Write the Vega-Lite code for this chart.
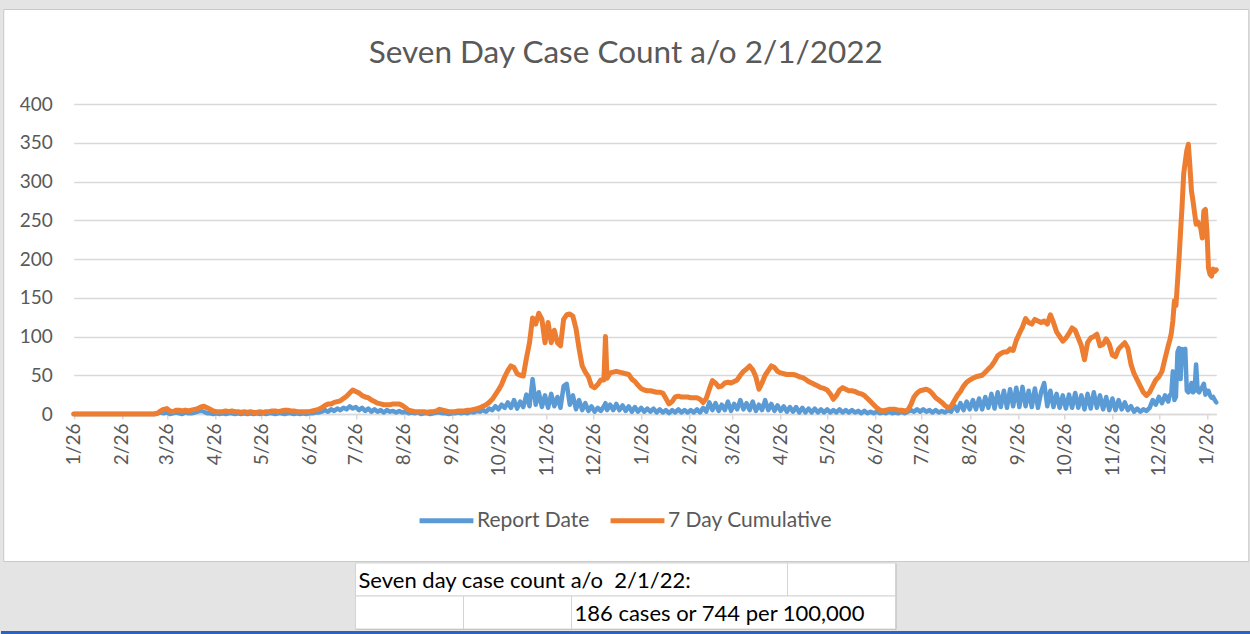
{
"$schema": "https://vega.github.io/schema/vega-lite/v6.json",
"background": "#e4e4e4",
"padding": {"top": 8, "left": 0, "right": 0, "bottom": 0},
"spacing": 0,
"center": true,
"config": {"font": "Lato"},
"datasets": {
"cases": [
{"d":"2020-01-26","c":0,"r":0},{"d":"2020-01-28","c":0,"r":0},{"d":"2020-01-30","c":0,"r":0},
{"d":"2020-02-01","c":0,"r":0},{"d":"2020-02-03","c":0,"r":0},{"d":"2020-02-05","c":0,"r":0},{"d":"2020-02-07","c":0,"r":0},{"d":"2020-02-09","c":0,"r":0},{"d":"2020-02-11","c":0,"r":0},{"d":"2020-02-13","c":0,"r":0},{"d":"2020-02-15","c":0,"r":0},{"d":"2020-02-17","c":0,"r":0},{"d":"2020-02-19","c":0,"r":0},{"d":"2020-02-21","c":0,"r":0},{"d":"2020-02-23","c":0,"r":0},{"d":"2020-02-25","c":0,"r":0},{"d":"2020-02-27","c":0,"r":0},{"d":"2020-02-29","c":0,"r":0},
{"d":"2020-03-02","c":0,"r":0},{"d":"2020-03-04","c":0,"r":0},{"d":"2020-03-06","c":0,"r":0},{"d":"2020-03-08","c":0,"r":0},{"d":"2020-03-10","c":0,"r":0},{"d":"2020-03-12","c":0,"r":0},{"d":"2020-03-14","c":0,"r":0},{"d":"2020-03-16","c":0,"r":0},{"d":"2020-03-18","c":0,"r":0},{"d":"2020-03-20","c":1,"r":1},{"d":"2020-03-22","c":4,"r":2},{"d":"2020-03-24","c":6,"r":1},{"d":"2020-03-26","c":7,"r":2},{"d":"2020-03-28","c":4,"r":0},{"d":"2020-03-30","c":3,"r":1},
{"d":"2020-04-01","c":5,"r":2},{"d":"2020-04-03","c":5,"r":1},{"d":"2020-04-05","c":4,"r":0},{"d":"2020-04-07","c":5,"r":2},{"d":"2020-04-09","c":4,"r":1},{"d":"2020-04-11","c":5,"r":1},{"d":"2020-04-13","c":6,"r":2},{"d":"2020-04-15","c":7,"r":3},{"d":"2020-04-17","c":9,"r":4},{"d":"2020-04-19","c":10,"r":3},{"d":"2020-04-21","c":8,"r":1},{"d":"2020-04-23","c":6,"r":1},{"d":"2020-04-25","c":4,"r":0},{"d":"2020-04-27","c":3,"r":1},{"d":"2020-04-29","c":3,"r":0},
{"d":"2020-05-01","c":3,"r":1},{"d":"2020-05-03","c":4,"r":0},{"d":"2020-05-05","c":3,"r":1},{"d":"2020-05-07","c":4,"r":1},{"d":"2020-05-09","c":3,"r":0},{"d":"2020-05-11","c":3,"r":1},{"d":"2020-05-13","c":2,"r":0},{"d":"2020-05-15","c":3,"r":1},{"d":"2020-05-17","c":2,"r":0},{"d":"2020-05-19","c":3,"r":1},{"d":"2020-05-21","c":2,"r":0},{"d":"2020-05-23","c":2,"r":1},{"d":"2020-05-25","c":3,"r":0},{"d":"2020-05-27","c":2,"r":1},{"d":"2020-05-29","c":3,"r":0},{"d":"2020-05-31","c":3,"r":1},
{"d":"2020-06-02","c":4,"r":1},{"d":"2020-06-04","c":4,"r":0},{"d":"2020-06-06","c":3,"r":1},{"d":"2020-06-08","c":4,"r":1},{"d":"2020-06-10","c":5,"r":0},{"d":"2020-06-12","c":5,"r":1},{"d":"2020-06-14","c":4,"r":1},{"d":"2020-06-16","c":4,"r":0},{"d":"2020-06-18","c":3,"r":1},{"d":"2020-06-20","c":3,"r":0},{"d":"2020-06-22","c":3,"r":1},{"d":"2020-06-24","c":3,"r":0},{"d":"2020-06-26","c":3,"r":1},{"d":"2020-06-28","c":4,"r":1},{"d":"2020-06-30","c":5,"r":2},
{"d":"2020-07-02","c":6,"r":2},{"d":"2020-07-04","c":8,"r":3},{"d":"2020-07-06","c":11,"r":5},{"d":"2020-07-08","c":13,"r":3},{"d":"2020-07-10","c":13,"r":6},{"d":"2020-07-12","c":15,"r":4},{"d":"2020-07-14","c":16,"r":7},{"d":"2020-07-16","c":17,"r":5},{"d":"2020-07-18","c":20,"r":8},{"d":"2020-07-20","c":23,"r":6},{"d":"2020-07-22","c":27,"r":10},{"d":"2020-07-24","c":31,"r":7},{"d":"2020-07-26","c":29,"r":9},{"d":"2020-07-28","c":27,"r":5},{"d":"2020-07-30","c":24,"r":8},
{"d":"2020-08-01","c":22,"r":4},{"d":"2020-08-03","c":21,"r":7},{"d":"2020-08-05","c":18,"r":3},{"d":"2020-08-07","c":16,"r":6},{"d":"2020-08-09","c":14,"r":3},{"d":"2020-08-11","c":13,"r":5},{"d":"2020-08-13","c":12,"r":2},{"d":"2020-08-15","c":12,"r":5},{"d":"2020-08-17","c":12,"r":3},{"d":"2020-08-19","c":13,"r":4},{"d":"2020-08-21","c":13,"r":2},{"d":"2020-08-23","c":13,"r":4},{"d":"2020-08-25","c":11,"r":2},{"d":"2020-08-27","c":8,"r":3},{"d":"2020-08-29","c":5,"r":1},{"d":"2020-08-31","c":4,"r":2},
{"d":"2020-09-02","c":3,"r":1},{"d":"2020-09-04","c":3,"r":2},{"d":"2020-09-06","c":3,"r":0},{"d":"2020-09-08","c":3,"r":1},{"d":"2020-09-10","c":2,"r":1},{"d":"2020-09-12","c":3,"r":0},{"d":"2020-09-14","c":3,"r":1},{"d":"2020-09-16","c":4,"r":2},{"d":"2020-09-18","c":6,"r":2},{"d":"2020-09-20","c":5,"r":1},{"d":"2020-09-22","c":4,"r":1},{"d":"2020-09-24","c":3,"r":0},{"d":"2020-09-26","c":3,"r":1},{"d":"2020-09-28","c":3,"r":1},{"d":"2020-09-30","c":4,"r":2},
{"d":"2020-10-02","c":4,"r":1},{"d":"2020-10-04","c":4,"r":2},{"d":"2020-10-06","c":5,"r":1},{"d":"2020-10-08","c":5,"r":3},{"d":"2020-10-10","c":6,"r":2},{"d":"2020-10-12","c":7,"r":4},{"d":"2020-10-14","c":8,"r":3},{"d":"2020-10-16","c":10,"r":5},{"d":"2020-10-18","c":12,"r":3},{"d":"2020-10-20","c":15,"r":7},{"d":"2020-10-22","c":19,"r":5},{"d":"2020-10-24","c":25,"r":10},{"d":"2020-10-26","c":31,"r":6},{"d":"2020-10-28","c":38,"r":12},{"d":"2020-10-30","c":48,"r":8},
{"d":"2020-11-01","c":56,"r":15},{"d":"2020-11-03","c":62,"r":8},{"d":"2020-11-05","c":60,"r":18},{"d":"2020-11-07","c":52,"r":7},{"d":"2020-11-09","c":50,"r":16},{"d":"2020-11-11","c":49,"r":9},{"d":"2020-11-13","c":72,"r":25},{"d":"2020-11-15","c":92,"r":10},{"d":"2020-11-17","c":124,"r":45},{"d":"2020-11-19","c":116,"r":12},{"d":"2020-11-21","c":130,"r":28},{"d":"2020-11-23","c":122,"r":9},{"d":"2020-11-25","c":92,"r":24},{"d":"2020-11-27","c":118,"r":8},{"d":"2020-11-29","c":92,"r":26},
{"d":"2020-12-01","c":108,"r":10},{"d":"2020-12-03","c":92,"r":22},{"d":"2020-12-05","c":88,"r":8},{"d":"2020-12-07","c":122,"r":36},{"d":"2020-12-09","c":128,"r":39},{"d":"2020-12-11","c":129,"r":12},{"d":"2020-12-13","c":126,"r":24},{"d":"2020-12-15","c":110,"r":6},{"d":"2020-12-17","c":84,"r":18},{"d":"2020-12-19","c":62,"r":5},{"d":"2020-12-21","c":54,"r":14},{"d":"2020-12-23","c":48,"r":4},{"d":"2020-12-25","c":36,"r":10},{"d":"2020-12-27","c":34,"r":3},{"d":"2020-12-29","c":38,"r":8},{"d":"2020-12-31","c":44,"r":4},
{"d":"2021-01-02","c":44,"r":10},{"d":"2021-01-03","c":100,"r":14},{"d":"2021-01-04","c":46,"r":5},{"d":"2021-01-06","c":53,"r":12},{"d":"2021-01-08","c":54,"r":5},{"d":"2021-01-10","c":55,"r":13},{"d":"2021-01-12","c":54,"r":5},{"d":"2021-01-14","c":53,"r":11},{"d":"2021-01-16","c":52,"r":4},{"d":"2021-01-18","c":51,"r":10},{"d":"2021-01-20","c":45,"r":3},{"d":"2021-01-22","c":42,"r":9},{"d":"2021-01-24","c":37,"r":3},{"d":"2021-01-26","c":33,"r":8},{"d":"2021-01-28","c":31,"r":3},{"d":"2021-01-30","c":30,"r":7},
{"d":"2021-02-01","c":30,"r":3},{"d":"2021-02-03","c":29,"r":7},{"d":"2021-02-05","c":28,"r":2},{"d":"2021-02-07","c":28,"r":6},{"d":"2021-02-09","c":27,"r":2},{"d":"2021-02-11","c":20,"r":5},{"d":"2021-02-13","c":13,"r":1},{"d":"2021-02-15","c":16,"r":5},{"d":"2021-02-17","c":22,"r":2},{"d":"2021-02-19","c":23,"r":6},{"d":"2021-02-21","c":22,"r":2},{"d":"2021-02-23","c":22,"r":5},{"d":"2021-02-25","c":22,"r":2},{"d":"2021-02-27","c":21,"r":5},
{"d":"2021-03-01","c":21,"r":2},{"d":"2021-03-03","c":21,"r":6},{"d":"2021-03-05","c":19,"r":2},{"d":"2021-03-07","c":15,"r":8},{"d":"2021-03-09","c":20,"r":3},{"d":"2021-03-11","c":32,"r":15},{"d":"2021-03-13","c":43,"r":5},{"d":"2021-03-15","c":40,"r":14},{"d":"2021-03-17","c":35,"r":4},{"d":"2021-03-19","c":36,"r":12},{"d":"2021-03-21","c":40,"r":5},{"d":"2021-03-23","c":41,"r":16},{"d":"2021-03-25","c":40,"r":4},{"d":"2021-03-27","c":42,"r":13},{"d":"2021-03-29","c":44,"r":6},{"d":"2021-03-31","c":50,"r":18},
{"d":"2021-04-02","c":55,"r":6},{"d":"2021-04-04","c":58,"r":14},{"d":"2021-04-06","c":62,"r":5},{"d":"2021-04-08","c":57,"r":16},{"d":"2021-04-10","c":48,"r":4},{"d":"2021-04-12","c":32,"r":12},{"d":"2021-04-14","c":40,"r":5},{"d":"2021-04-16","c":50,"r":18},{"d":"2021-04-18","c":56,"r":5},{"d":"2021-04-20","c":62,"r":13},{"d":"2021-04-22","c":60,"r":4},{"d":"2021-04-24","c":55,"r":11},{"d":"2021-04-26","c":53,"r":4},{"d":"2021-04-28","c":52,"r":10},{"d":"2021-04-30","c":51,"r":3},
{"d":"2021-05-02","c":51,"r":9},{"d":"2021-05-04","c":51,"r":3},{"d":"2021-05-06","c":50,"r":9},{"d":"2021-05-08","c":48,"r":2},{"d":"2021-05-10","c":47,"r":8},{"d":"2021-05-12","c":45,"r":2},{"d":"2021-05-14","c":42,"r":7},{"d":"2021-05-16","c":40,"r":2},{"d":"2021-05-18","c":38,"r":7},{"d":"2021-05-20","c":36,"r":2},{"d":"2021-05-22","c":34,"r":6},{"d":"2021-05-24","c":33,"r":2},{"d":"2021-05-26","c":31,"r":6},{"d":"2021-05-28","c":26,"r":2},{"d":"2021-05-30","c":19,"r":5},
{"d":"2021-06-01","c":24,"r":2},{"d":"2021-06-03","c":31,"r":6},{"d":"2021-06-05","c":34,"r":2},{"d":"2021-06-07","c":32,"r":5},{"d":"2021-06-09","c":30,"r":2},{"d":"2021-06-11","c":30,"r":5},{"d":"2021-06-13","c":29,"r":2},{"d":"2021-06-15","c":27,"r":4},{"d":"2021-06-17","c":26,"r":1},{"d":"2021-06-19","c":24,"r":4},{"d":"2021-06-21","c":20,"r":1},{"d":"2021-06-23","c":16,"r":3},{"d":"2021-06-25","c":12,"r":1},{"d":"2021-06-27","c":8,"r":3},{"d":"2021-06-29","c":5,"r":1},
{"d":"2021-07-01","c":4,"r":2},{"d":"2021-07-03","c":5,"r":1},{"d":"2021-07-05","c":6,"r":3},{"d":"2021-07-07","c":6,"r":1},{"d":"2021-07-09","c":6,"r":2},{"d":"2021-07-11","c":5,"r":1},{"d":"2021-07-13","c":5,"r":3},{"d":"2021-07-15","c":4,"r":1},{"d":"2021-07-17","c":5,"r":3},{"d":"2021-07-19","c":12,"r":5},{"d":"2021-07-21","c":22,"r":3},{"d":"2021-07-23","c":27,"r":6},{"d":"2021-07-25","c":30,"r":3},{"d":"2021-07-27","c":31,"r":6},{"d":"2021-07-29","c":32,"r":3},{"d":"2021-07-31","c":30,"r":5},
{"d":"2021-08-02","c":26,"r":2},{"d":"2021-08-04","c":21,"r":5},{"d":"2021-08-06","c":18,"r":2},{"d":"2021-08-08","c":15,"r":4},{"d":"2021-08-10","c":11,"r":2},{"d":"2021-08-12","c":8,"r":5},{"d":"2021-08-14","c":10,"r":3},{"d":"2021-08-16","c":17,"r":11},{"d":"2021-08-18","c":24,"r":4},{"d":"2021-08-20","c":29,"r":14},{"d":"2021-08-22","c":36,"r":5},{"d":"2021-08-24","c":41,"r":16},{"d":"2021-08-26","c":44,"r":6},{"d":"2021-08-28","c":46,"r":18},{"d":"2021-08-30","c":48,"r":6},
{"d":"2021-09-01","c":49,"r":20},{"d":"2021-09-03","c":50,"r":6},{"d":"2021-09-05","c":54,"r":22},{"d":"2021-09-07","c":58,"r":8},{"d":"2021-09-09","c":62,"r":26},{"d":"2021-09-11","c":68,"r":7},{"d":"2021-09-13","c":75,"r":28},{"d":"2021-09-15","c":78,"r":9},{"d":"2021-09-17","c":80,"r":30},{"d":"2021-09-19","c":80,"r":8},{"d":"2021-09-21","c":84,"r":32},{"d":"2021-09-23","c":82,"r":10},{"d":"2021-09-25","c":95,"r":34},{"d":"2021-09-27","c":104,"r":9},{"d":"2021-09-29","c":112,"r":35},
{"d":"2021-10-01","c":123,"r":10},{"d":"2021-10-03","c":118,"r":30},{"d":"2021-10-05","c":116,"r":9},{"d":"2021-10-07","c":122,"r":33},{"d":"2021-10-09","c":120,"r":8},{"d":"2021-10-11","c":118,"r":28},{"d":"2021-10-13","c":120,"r":40},{"d":"2021-10-15","c":116,"r":10},{"d":"2021-10-17","c":128,"r":30},{"d":"2021-10-19","c":118,"r":9},{"d":"2021-10-21","c":106,"r":26},{"d":"2021-10-23","c":100,"r":8},{"d":"2021-10-25","c":94,"r":24},{"d":"2021-10-27","c":98,"r":7},{"d":"2021-10-29","c":104,"r":25},{"d":"2021-10-31","c":111,"r":8},
{"d":"2021-11-02","c":108,"r":27},{"d":"2021-11-04","c":98,"r":8},{"d":"2021-11-06","c":88,"r":24},{"d":"2021-11-08","c":70,"r":6},{"d":"2021-11-10","c":92,"r":26},{"d":"2021-11-12","c":98,"r":7},{"d":"2021-11-14","c":100,"r":28},{"d":"2021-11-16","c":103,"r":8},{"d":"2021-11-18","c":88,"r":24},{"d":"2021-11-20","c":90,"r":6},{"d":"2021-11-22","c":97,"r":22},{"d":"2021-11-24","c":90,"r":5},{"d":"2021-11-26","c":76,"r":20},{"d":"2021-11-28","c":74,"r":5},{"d":"2021-11-30","c":84,"r":18},
{"d":"2021-12-02","c":88,"r":6},{"d":"2021-12-04","c":92,"r":15},{"d":"2021-12-06","c":85,"r":5},{"d":"2021-12-08","c":64,"r":10},{"d":"2021-12-10","c":52,"r":3},{"d":"2021-12-12","c":44,"r":7},{"d":"2021-12-14","c":36,"r":3},{"d":"2021-12-16","c":28,"r":6},{"d":"2021-12-18","c":24,"r":4},{"d":"2021-12-20","c":28,"r":8},{"d":"2021-12-22","c":36,"r":18},{"d":"2021-12-24","c":44,"r":12},{"d":"2021-12-26","c":48,"r":22},{"d":"2021-12-28","c":55,"r":14},{"d":"2021-12-30","c":72,"r":24},
{"d":"2022-01-01","c":88,"r":16},{"d":"2022-01-02","c":95,"r":24},{"d":"2022-01-03","c":104,"r":26},{"d":"2022-01-04","c":120,"r":55},{"d":"2022-01-05","c":146,"r":18},{"d":"2022-01-06","c":140,"r":22},{"d":"2022-01-07","c":170,"r":80},{"d":"2022-01-08","c":201,"r":85},{"d":"2022-01-09","c":236,"r":45},{"d":"2022-01-10","c":270,"r":84},{"d":"2022-01-11","c":310,"r":82},{"d":"2022-01-12","c":325,"r":84},{"d":"2022-01-13","c":340,"r":30},{"d":"2022-01-14","c":348,"r":28},{"d":"2022-01-15","c":320,"r":30},{"d":"2022-01-16","c":288,"r":40},{"d":"2022-01-17","c":275,"r":28},{"d":"2022-01-18","c":260,"r":30},{"d":"2022-01-19","c":245,"r":64},{"d":"2022-01-20","c":248,"r":30},{"d":"2022-01-21","c":244,"r":28},{"d":"2022-01-22","c":240,"r":32},{"d":"2022-01-23","c":227,"r":35},{"d":"2022-01-24","c":262,"r":39},{"d":"2022-01-25","c":264,"r":25},{"d":"2022-01-26","c":236,"r":30},{"d":"2022-01-27","c":188,"r":30},{"d":"2022-01-28","c":180,"r":24},{"d":"2022-01-29","c":178,"r":21},{"d":"2022-01-30","c":187,"r":22},{"d":"2022-01-31","c":184,"r":18},{"d":"2022-02-01","c":186,"r":15}
],
"cells": [
{"row":1,"c0":0,"c1":4,"txt":"Seven day case count a/o\u00a0 2/1/22:"},
{"row":1,"c0":4,"c1":5,"txt":""},
{"row":2,"c0":0,"c1":1,"txt":""},
{"row":2,"c0":1,"c1":2,"txt":""},
{"row":2,"c0":2,"c1":5,"txt":"186 cases or 744 per 100,000"}
]
},
"vconcat": [
{
"width": 1245,
"height": 552,
"view": {"fill": "white", "stroke": "#c9c9c9", "strokeWidth": 1},
"title": {"text": "Seven Day Case Count a/o 2/1/2022", "anchor": "middle", "frame": "group", "orient": "top", "offset": -85, "baseline": "alphabetic", "font": "Lato", "fontSize": 31.5, "fontWeight": "normal", "color": "#595959"},
"data": {"name": "cases"},
"layer": [
{
"mark": {"type": "line", "strokeWidth": 4.5, "strokeJoin": "round", "strokeCap": "round"},
"encoding": {
"x": {"field": "d", "type": "temporal",
"scale": {"type": "utc", "domain": [{"year": 2020, "month": 1, "date": 26, "utc": true}, {"year": 2022, "month": 2, "date": 1, "utc": true}], "range": [70.5, 1213], "nice": false},
"axis": {"title": null, "offset": -147, "format": "%-m/%-d", "labelAngle": -90, "labelFont": "Lato", "labelFontSize": 19, "labelColor": "#595959", "labelPadding": 4, "labelOverlap": false, "labelBound": false, "labelFlush": false, "grid": false, "domainColor": "#d9d9d9", "domainWidth": 1.5, "tickColor": "#d9d9d9", "tickSize": 5, "tickWidth": 1.5,
"values": [
{"year":2020,"month":1,"date":26,"utc":true},{"year":2020,"month":2,"date":26,"utc":true},{"year":2020,"month":3,"date":26,"utc":true},{"year":2020,"month":4,"date":26,"utc":true},{"year":2020,"month":5,"date":26,"utc":true},{"year":2020,"month":6,"date":26,"utc":true},{"year":2020,"month":7,"date":26,"utc":true},{"year":2020,"month":8,"date":26,"utc":true},{"year":2020,"month":9,"date":26,"utc":true},{"year":2020,"month":10,"date":26,"utc":true},{"year":2020,"month":11,"date":26,"utc":true},{"year":2020,"month":12,"date":26,"utc":true},
{"year":2021,"month":1,"date":26,"utc":true},{"year":2021,"month":2,"date":26,"utc":true},{"year":2021,"month":3,"date":26,"utc":true},{"year":2021,"month":4,"date":26,"utc":true},{"year":2021,"month":5,"date":26,"utc":true},{"year":2021,"month":6,"date":26,"utc":true},{"year":2021,"month":7,"date":26,"utc":true},{"year":2021,"month":8,"date":26,"utc":true},{"year":2021,"month":9,"date":26,"utc":true},{"year":2021,"month":10,"date":26,"utc":true},{"year":2021,"month":11,"date":26,"utc":true},{"year":2021,"month":12,"date":26,"utc":true},
{"year":2022,"month":1,"date":26,"utc":true}]}},
"y": {"field": "r", "type": "quantitative",
"scale": {"domain": [0, 400], "range": [405, 95], "nice": false, "zero": true},
"axis": {"title": null, "offset": -49, "values": [0, 50, 100, 150, 200, 250, 300, 350, 400], "domain": false, "ticks": false, "labelPadding": 0, "labelFont": "Lato", "labelFontSize": 19, "labelColor": "#595959", "labelFlush": false, "grid": true, "gridColor": "#d9d9d9", "gridWidth": 1.5}},
"color": {"datum": "Report Date", "type": "nominal",
"scale": {"domain": ["Report Date", "7 Day Cumulative"], "range": ["#5b9bd5", "#ed7d31"]},
"legend": {"title": null, "orient": "none", "legendX": 416, "legendY": 482, "direction": "horizontal", "symbolType": "stroke", "symbolSize": 2900, "symbolStrokeWidth": 5, "labelFont": "Lato", "labelFontSize": 21, "labelColor": "#595959", "labelOffset": 1, "labelLimit": 0, "columnPadding": 10}}
}
},
{
"mark": {"type": "line", "strokeWidth": 5, "strokeJoin": "round", "strokeCap": "round"},
"encoding": {
"x": {"field": "d", "type": "temporal"},
"y": {"field": "c", "type": "quantitative"},
"color": {"datum": "7 Day Cumulative", "type": "nominal"}
}
}
]
},
{
"width": 540,
"height": 66,
"view": {"fill": "white", "stroke": "#b8b8b8"},
"data": {"name": "cells"},
"encoding": {
"x": {"field": "c0", "type": "quantitative", "scale": {"domain": [0, 5], "nice": false, "zero": false}, "axis": null},
"y": {"field": "row", "type": "ordinal", "scale": {"paddingInner": 0, "paddingOuter": 0}, "axis": null}
},
"layer": [
{"mark": {"type": "rect", "fill": "white", "stroke": "#d4d4d4", "strokeWidth": 1},
"encoding": {"x2": {"field": "c1"}}},
{"mark": {"type": "text", "align": "left", "baseline": "middle", "dx": 3, "dy": 1, "font": "Lato", "fontSize": 22, "color": "#000000"},
"encoding": {"text": {"field": "txt"}}}
]
},
{
"width": 1250,
"height": 7,
"view": {"fill": "#2b62c4", "stroke": null},
"data": {"values": [{}]},
"mark": {"type": "rule", "opacity": 0},
"encoding": {}
}
]
}
